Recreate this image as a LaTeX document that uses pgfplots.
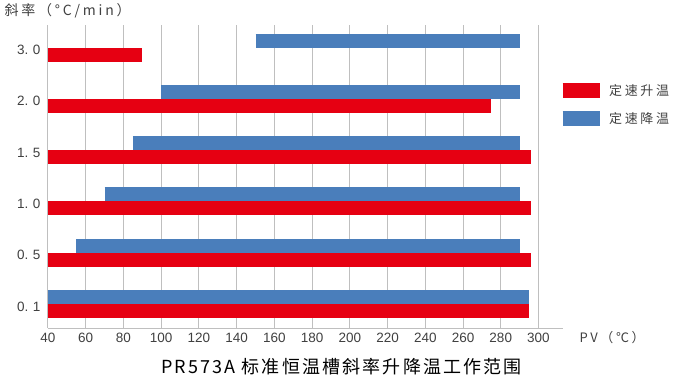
\documentclass[border=0pt]{standalone}
\usepackage{pgfplots}
\pgfplotsset{compat=1.18}
\usepackage{fontspec}
\setmainfont{Noto Sans CJK SC}
\newfontfamily\numfont{Liberation Sans}
\newfontfamily\cjkls{Noto Sans CJK SC}[LetterSpace=20]
\newfontfamily\cjkt{Noto Sans CJK SC}[LetterSpace=12]
\definecolor{myred}{HTML}{E60012}
\definecolor{myblue}{HTML}{4A7EBB}
\definecolor{gridc}{HTML}{BFBFBF}
\definecolor{txt}{HTML}{404040}
\begin{document}
\begin{tikzpicture}
\begin{axis}[
  at={(0pt,0pt)}, anchor=south west,
  scale only axis, width=515pt, height=303pt,
  xmin=40, xmax=313, ymin=-0.468, ymax=5.44,
  xtick={40,60,...,300},
  ytick={0,1,2,3,4,5},
  yticklabels={0.\hspace{4.5pt}1,0.\hspace{4.5pt}5,1.\hspace{4.5pt}0,1.\hspace{4.5pt}5,2.\hspace{4.5pt}0,3.\hspace{4.5pt}0},
  axis x line*=bottom, axis y line*=left,
  axis line style={gridc, line width=1pt},
  major tick length=0pt,
  xmajorgrids, grid style={gridc, line width=1pt},
  /pgf/number format/assume math mode=true,
  tick label style={font=\numfont\fontsize{13.5}{15}\selectfont, text=txt},
  xticklabel style={yshift=-2pt},
  yticklabel style={xshift=-4pt, yshift=-2.5pt},
  xlabel={PV（℃）},
  xlabel style={at={(rel axis cs:1,0)}, anchor=west, xshift=13pt, yshift=-9.5pt, font=\cjkls\fontsize{13}{15}\selectfont, text=txt},
  ylabel={斜率（°C/min）},
  ylabel style={rotate=-90, at={(rel axis cs:0,1)}, anchor=west, xshift=-47pt, yshift=14pt, font=\cjkls\fontsize{14}{16}\selectfont, text=txt},
  title={PR573A 标准恒温槽斜率升降温工作范围},
  title style={at={(rel axis cs:0,0)}, anchor=center, xshift=293.5pt, yshift=-44.5pt, font=\cjkt\fontsize{18}{20}\selectfont, text=black},
  legend style={at={(rel axis cs:1,0)}, anchor=north west, xshift=-8pt, yshift=245.5pt, draw=none, fill=none,
    font=\cjkls\fontsize{13}{15}\selectfont, text=txt, row sep=11pt, inner sep=0pt,
    nodes={inner sep=2pt}},
  legend cell align=left,
  legend image code/.code={\draw[#1, line width=15pt] (0pt,0pt) -- (37pt,0pt);},
]
% 定速升温 (red) and 定速降温 (blue): start and end of each range
\addplot[myred, line width=14pt] coordinates {(40,-0.1365) (295,-0.1365)};
\addlegendentry{定速升温}
\addplot[myblue, line width=14pt] coordinates {(40,0.1365) (295,0.1365)};
\addlegendentry{定速降温}
\addplot[myred, line width=14pt, forget plot] coordinates {(40,0.8635) (296,0.8635)};
\addplot[myblue, line width=14pt, forget plot] coordinates {(55,1.1365) (290,1.1365)};
\addplot[myred, line width=14pt, forget plot] coordinates {(40,1.8635) (296,1.8635)};
\addplot[myblue, line width=14pt, forget plot] coordinates {(70,2.1365) (290,2.1365)};
\addplot[myred, line width=14pt, forget plot] coordinates {(40,2.8635) (296,2.8635)};
\addplot[myblue, line width=14pt, forget plot] coordinates {(85,3.1365) (290,3.1365)};
\addplot[myred, line width=14pt, forget plot] coordinates {(40,3.8635) (275,3.8635)};
\addplot[myblue, line width=14pt, forget plot] coordinates {(100,4.1365) (290,4.1365)};
\addplot[myred, line width=14pt, forget plot] coordinates {(40,4.8635) (90,4.8635)};
\addplot[myblue, line width=14pt, forget plot] coordinates {(150,5.1365) (290,5.1365)};
\end{axis}
\pgfresetboundingbox
\path (-48pt,-63pt) rectangle (626pt,328pt);
\end{tikzpicture}
\end{document}
